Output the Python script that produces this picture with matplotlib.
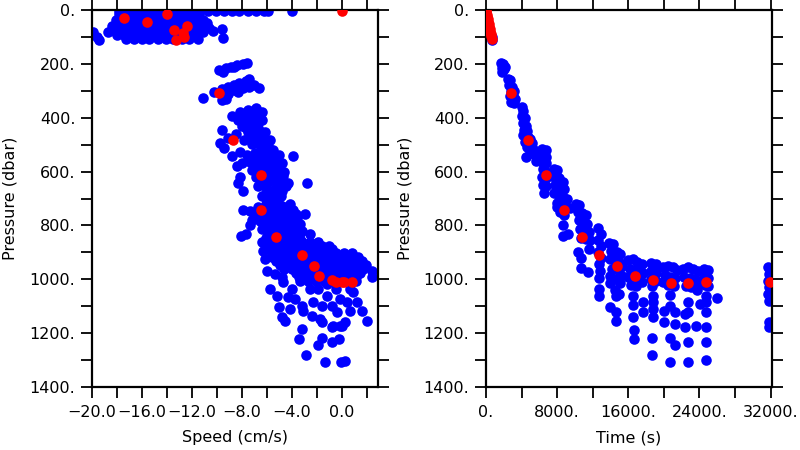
import numpy as np
import matplotlib
matplotlib.use("Agg")
import matplotlib.pyplot as plt
from matplotlib.ticker import MultipleLocator, FuncFormatter

BLUE = (0.0, 0.0, 1.0)
RED = (1.0, 0.0, 0.0)

# ---------------- left panel: speed (cm/s) vs pressure (dbar) ----------------
# near-surface blob, one list of speeds per pressure row
surf_pres = [2, 15, 26, 37, 48, 59, 70, 81, 94, 107]
surf_speed = [
    [-17.8, -17.1, -16.5, -15.8, -15.2, -14.6, -13.9, -13.3, -12.6, -12.0, -11.4,
     -10.7, -10.1, -9.4, -8.8, -8.2, -7.5, -6.9, -6.2, -5.9],
    [-17.8, -17.1, -16.5, -15.8, -15.2, -14.6, -13.9, -13.3, -12.6, -12.0, -11.4],
    [-17.5, -16.8, -16.2, -15.5, -14.9, -14.3, -13.6, -13.0, -12.3, -11.7],
    [-18.1, -17.5, -16.8, -16.2, -15.5, -14.9, -14.3, -13.6, -13.0, -12.3, -11.7, -11.1],
    [-17.8, -17.1, -16.5, -15.8, -15.2, -14.6, -13.9, -13.3, -12.6, -12.0, -11.4],
    [-18.4, -17.8, -17.1, -16.5, -15.8, -15.2, -14.6, -13.9, -13.3, -12.6, -12.0, -11.4, -11.0],
    [-18.1, -17.5, -16.8, -16.2, -15.5, -14.9, -14.3, -13.6, -13.0, -12.3, -11.7],
    [-18.7, -18.1, -17.5, -16.8, -16.2, -15.5, -14.9, -14.3, -13.6, -13.0, -12.3, -11.7, -11.1],
    [-18.0, -17.4, -16.8, -16.1, -15.5, -14.8, -14.2, -13.6, -12.9, -12.3, -11.6],
    [-17.3, -16.6, -16.0, -15.4, -14.7, -14.1, -13.5, -12.8, -12.2, -11.5],
]
surf_x_speed = [-19.9, -19.6, -19.4, -18.0, -10.8, -10.6, -10.3, -9.6, -9.5, -4.0]
surf_x_pres = [81, 100, 111, 48, 48, 67, 78, 70, 104, 4]

# deeper blue points, cluster by cluster
deep_speed = [
    # 200 dbar band
    -9.8, -9.3, -8.9, -8.4, -7.9, -7.6, -9.5, -8.6,
    # 300 dbar band
    -10.2, -9.6, -9.1, -8.6, -8.2, -7.7, -7.4, -8.6, -7.9, -7.4, -7.0, -6.6, -9.1, -8.3,
    -9.6, -9.3, -11.1,
    # 400-520 dbar
    -8.8, -8.16, -7.52, -6.88, -6.4, -8.32, -7.68, -7.04, -6.4, -8.0, -7.36, -6.72, -6.16,
    -7.52, -6.88, -6.24, -5.76, -7.84, -7.2, -6.56, -5.92, -5.52, -9.6, -9.76, -9.44, -9.12, -8.48,
    -7.2, -6.6, -7.9, -7.3, -6.7, -7.7, -7.1, -6.5, -7.4, -6.6, -6.1,
    # 520-700 dbar
    -7.6, -6.96, -6.32, -5.68, -5.04, -7.36, -6.72, -6.08, -5.44, -4.8, -7.2, -6.56, -5.92,
    -5.28, -4.64, -6.88, -6.24, -5.6, -4.96, -4.32, -6.72, -6.08, -5.44, -4.8, -6.4, -5.76,
    -5.12, -8.0, -8.16, -8.16, -8.32, -7.92, -3.92, -2.8, -8.8, -8.4,
    -7.0, -6.4, -5.8, -5.2, -6.9, -6.3, -5.6, -5.0, -6.6, -6.0, -5.3, -4.7, -6.5, -5.9,
    -5.2, -4.5, -6.1, -5.4, -4.9, -6.0, -5.5,
    # 720-850 dbar
    -6.72, -6.08, -5.44, -4.8, -4.16, -6.88, -6.24, -5.6, -4.96, -4.32, -3.68, -6.56, -5.92,
    -5.28, -4.64, -4.0, -3.36, -6.4, -5.76, -5.12, -4.48, -3.84, -3.2, -6.08, -4.64, -4.0,
    -3.36, -7.92, -7.36, -8.08, -7.68, -7.2, -7.36, -2.56, -2.96,
    -6.4, -5.8, -5.1, -4.5, -3.9, -6.2, -5.6, -5.0, -4.3, -3.6, -6.1, -5.4, -4.8, -4.2,
    -3.5, -5.9, -5.3, -4.6, -4.0, -3.4,
    # 860-1040 dbar dense band
    -6.4, -5.76, -5.12, -4.48, -3.84, -3.2, -2.56, -1.92,
    -6.1, -5.4, -4.8, -4.2, -3.5, -2.9, -2.2, -1.6, -1.0,
    -5.92, -5.28, -4.64, -4.0, -3.36, -2.72, -2.08, -1.44, -0.8,
    -5.6, -5.0, -4.3, -3.7, -3.0, -2.4, -1.8, -1.1, -0.5, 0.2, 0.8,
    -5.6, -4.96, -4.32, -3.68, -3.04, -2.4, -1.76, -1.12, -0.48, 0.16, 0.8, 1.28,
    -5.3, -4.6, -4.0, -3.4, -2.7, -2.1, -1.4, -0.8, -0.2, 0.5, 1.1, 1.6,
    -4.96, -4.32, -3.68, -3.04, -2.4, -1.76, -1.12, -0.48, 0.16, 0.8, 1.44, 1.92,
    -4.6, -4.0, -3.4, -2.7, -2.1, -1.4, -0.8, -0.2, 0.5, 1.1, 1.7,
    -3.68, -3.04, -2.4, -1.76, -1.12, -0.48, 0.16, 0.8, 1.44,
    -3.4, -2.7, -2.1, -1.4, -0.8, -0.2, 0.5, 1.1,
    -3.36, -2.72, -2.08, -1.44, -0.8, -0.16, 0.48, 1.12,
    -2.56, -1.92, -0.48, 0.64, 2.4, 2.4,
    # scattered deep points
    -6.32, -6.16, -6.0, -5.36, -4.8, -4.72, -5.76, -5.2, -4.0, -4.32, -3.76, -5.04, -4.16,
    -4.8, -4.56, -3.2, -3.12, -2.4, -1.76, -1.6, -2.32, -1.2, -1.6, -0.8, -0.4, -0.72, -0.16,
    0.24, 0.64, 0.4, 1.2, 1.6, 2.0, 0.88, -0.16, -1.2, -3.2, -3.44, -1.6, -1.92, -0.8, -0.24,
    -0.8, 0.0, -2.88, -1.36, -0.08, 0.24,
]
deep_pres = [
    222, 215, 211, 204, 200, 196, 230, 211,
    304, 293, 285, 278, 270, 263, 256, 296, 289, 285, 278, 289, 311, 304,
    333, 330, 326,
    393, 378, 370, 363, 378, 407, 400, 393, 407, 430, 422, 437, 452,
    452, 467, 474, 481, 481, 496, 500, 504, 519, 444, 493, 511, 474, 459,
    385, 392, 415, 410, 420, 440, 445, 452, 470, 485, 490,
    537, 530, 526, 526, 537, 563, 556, 556, 563, 570, 593, 585, 593,
    600, 600, 622, 622, 630, 637, 641, 652, 659, 667, 674, 689, 696,
    704, 567, 526, 622, 641, 674, 541, 641, 541, 578,
    545, 545, 545, 550, 575, 575, 578, 585, 607, 607, 612, 618, 640, 640,
    648, 655, 678, 680, 690, 710, 712,
    730, 722, 730, 726, 722, 759, 756, 759, 756, 759, 756, 785, 785,
    785, 785, 785, 793, 815, 815, 815, 815, 815, 822, 845, 845, 845,
    852, 744, 800, 841, 830, 778, 748, 833, 759,
    744, 744, 744, 742, 742, 770, 770, 770, 770, 772, 800, 800, 800, 800,
    805, 830, 830, 830, 830, 835,
    863, 863, 863, 863, 863, 863, 863, 863,
    876, 876, 876, 876, 876, 876, 876, 876, 876,
    889, 889, 889, 889, 889, 889, 889, 889, 889,
    904, 904, 904, 904, 904, 904, 904, 904, 904, 904, 904,
    919, 919, 919, 919, 919, 919, 919, 919, 919, 919, 919, 919,
    933, 933, 933, 933, 933, 933, 933, 933, 933, 933, 933, 933,
    948, 948, 948, 948, 948, 948, 948, 948, 948, 948, 948, 948,
    963, 963, 963, 963, 963, 963, 963, 963, 963, 963, 963,
    978, 978, 978, 978, 978, 978, 978, 978, 978,
    992, 992, 992, 992, 992, 992, 992, 992,
    1007, 1007, 1007, 1007, 1007, 1007, 1007, 1007,
    1037, 1037, 1037, 1037, 993, 970,
    896, 926, 970, 982, 993, 1011, 1037, 1063, 1037, 1067, 1074, 1104, 1111,
    1141, 1156, 1100, 1119, 1137, 1148, 1159, 1085, 1063, 1100, 1100, 1122, 1174, 1174,
    1159, 1119, 1085, 1085, 1119, 1156, 1048, 1074, 1019, 1185, 1222, 1219, 1245, 1233, 1222,
    1178, 1174, 1282, 1307, 1307, 1304,
]

red_speed = [-17.4, -15.6, -14.0, -13.4, -12.4, -12.7, -12.6, -13.3, 0.0,
             -9.8, -8.7, -6.5, -6.5, -5.3, -3.2, -2.2, -1.8, -0.8, -0.5, 0.0, 0.2, 0.8]
red_pres_l = [30, 44, 15, 74, 59, 85, 100, 111, 2,
              307, 481, 611, 741, 844, 911, 952, 989, 1004, 1011, 1011, 1011, 1011]

# ---------------- right panel: time (s) vs pressure (dbar) ----------------
time_blue = [
    620, 700,
    1700, 1900, 1750, 2000, 1850, 2100,
    2500, 2700, 2600, 2900, 2800, 3100, 2700, 3000, 3300, 2800, 3100,
    4000, 4200, 4100, 4400, 4200, 4500, 4300, 4600, 4200, 4700, 4400, 5000, 5200, 4600, 5300,
    5000, 4500, 5500, 5600,
    6300, 6700, 6400, 6800, 6300, 6700, 6400, 6800, 6300, 6700, 6400, 6800, 6500,
    7600, 8000, 7700, 8200, 8600, 7800, 8300, 8800, 7700, 8200, 8700, 9100, 8000, 8500, 9000,
    9400, 7980, 8300, 8800, 8650, 9220, 8650,
    10100, 10500, 10300, 10800, 11200, 10400, 10900, 11400, 10600, 11100, 11600, 10700, 11200,
    11700, 10340, 10680, 10680, 11580, 11460,
    12600, 12900, 12600, 12900, 12600, 12900, 12700, 12800, 12700, 12700, 12700,
    13800, 14300, 14100, 14700, 15100, 13900, 14400, 15000, 15300, 14200, 14800, 15200, 14600,
    15100, 14500, 14900, 14600, 13940, 14610, 14610, 13940, 13940,
    16000, 16500, 17000, 17500, 16200, 16700, 17200, 17700, 16000, 16500, 17000, 17500, 16300,
    16900, 16520, 16520, 16520, 16640, 16640, 17650, 17650,
    18500, 19100, 18500, 19100, 18600, 19100, 18700, 18770, 18770, 18770, 18770, 18660, 18660,
    19900, 20500, 21000, 21500, 20100, 20700, 21300, 19900, 20500, 21100, 20680, 20680, 21240,
    20000, 20000, 21240, 20680, 21240, 20680,
    22100, 22700, 23300, 23800, 22300, 22900, 23500, 24000, 22500, 23100, 23700, 22700, 22700,
    22370, 23600, 24050, 22370, 22700, 22700,
    24500, 25000, 24500, 25000, 24600, 25000, 24730, 24730, 24730, 24730, 24730, 24730, 25960,
    31700, 31800, 31700, 31800, 31700, 31800, 31800, 31800,
]
pres_blue = [
    100, 112,
    195, 200, 215, 220, 230, 210,
    255, 260, 280, 285, 300, 300, 320, 320, 330, 340, 345,
    360, 375, 395, 400, 420, 430, 445, 450, 465, 470, 490, 480, 495, 510, 515,
    530, 545, 540, 560,
    515, 520, 540, 545, 565, 570, 590, 600, 620, 625, 650, 655, 680,
    590, 595, 620, 625, 640, 650, 660, 665, 680, 690, 695, 700, 715, 720, 730,
    735, 733, 750, 760, 800, 830, 841,
    720, 725, 750, 755, 760, 780, 790, 795, 815, 820, 825, 845, 850,
    855, 900, 922, 959, 889, 974,
    810, 830, 855, 875, 900, 920, 945, 970, 995, 1037, 1063,
    865, 870, 895, 900, 905, 925, 930, 935, 950, 960, 965, 985, 1000,
    1015, 1040, 1055, 1063, 1104, 1122, 1156, 989, 1015,
    930, 925, 935, 945, 960, 965, 970, 975, 990, 995, 1000, 1010, 1020,
    1025, 1063, 1096, 1141, 1189, 1222, 1085, 1122,
    940, 945, 970, 975, 1000, 1005, 1025, 1063, 1085, 1111, 1141, 1219, 1282,
    955, 950, 955, 965, 985, 990, 995, 1010, 1020, 1025, 1059, 1100, 1122,
    1119, 1159, 1167, 1219, 1245, 1307,
    960, 955, 960, 970, 990, 995, 1000, 1010, 1025, 1030, 1040, 1085, 1122,
    1130, 1174, 1093, 1178, 1233, 1307,
    960, 965, 990, 995, 1020, 1025, 1063, 1085, 1122, 1178, 1233, 1300, 1070,
    955, 980, 1005, 1030, 1055, 1080, 1159, 1178,
]

red_time = [0, 40, 90, 140, 190, 240, 300, 360, 420, 480, 540, 600, 660,
            2810, 4720, 6740, 8770, 10790, 12700, 14720, 16750, 18770, 20790, 22700, 24730, 31920]
red_pres_r = [0, 8, 17, 26, 35, 44, 53, 62, 71, 80, 89, 98, 108,
              307, 481, 611, 741, 844, 911, 952, 989, 1004, 1015, 1015, 1011, 1011]

# build flat arrays for the left-panel blob
left_x = np.concatenate([np.array(v) for v in surf_speed] + [surf_x_speed, deep_speed])
left_y = np.concatenate([np.full(len(v), p) for v, p in zip(surf_speed, surf_pres)]
                        + [surf_x_pres, deep_pres])

fig = plt.figure(figsize=(8, 4.5), dpi=100)
ax1 = fig.add_axes([92 / 800, 1 - 387 / 450, 286 / 800, 377 / 450])
ax2 = fig.add_axes([486 / 800, 1 - 387 / 450, 286 / 800, 377 / 450])

ms = 58
ax1.scatter(left_x, left_y, s=ms, color=BLUE, linewidths=0, zorder=2)
ax1.scatter(red_speed, red_pres_l, s=ms, color=RED, linewidths=0, zorder=3)
ax2.scatter(time_blue, pres_blue, s=ms, color=BLUE, linewidths=0, zorder=2)
ax2.scatter(red_time, red_pres_r, s=ms, color=RED, linewidths=0, zorder=3)


def dot_fmt(decimals):
    def f(v, pos):
        if decimals == 0:
            return f"{v:.0f}.".replace("-", "\u2212")
        return f"{v:.{decimals}f}".replace("-", "\u2212")
    return FuncFormatter(f)


fs = 11.5
for ax in (ax1, ax2):
    ax.set_ylim(1400, 0)
    ax.yaxis.set_major_locator(MultipleLocator(200))
    ax.yaxis.set_minor_locator(MultipleLocator(100))
    ax.yaxis.set_major_formatter(dot_fmt(0))
    ax.tick_params(which="both", direction="out", length=8, width=1.3,
                   top=True, right=True, labelsize=fs, colors="black")
    ax.tick_params(axis="x", pad=5)
    ax.tick_params(axis="y", pad=4)
    for s in ax.spines.values():
        s.set_linewidth(1.6)
    ax.set_ylabel("Pressure (dbar)", fontsize=fs)

ax1.set_xlim(-20, 2.9)
ax1.xaxis.set_major_locator(MultipleLocator(4))
ax1.xaxis.set_minor_locator(MultipleLocator(2))
ax1.xaxis.set_major_formatter(dot_fmt(1))
ax1.set_xlabel("Speed (cm/s)", fontsize=fs)
ax1.yaxis.set_label_coords(-0.287, 0.5)

ax2.set_xlim(0, 32150)
ax2.xaxis.set_major_locator(MultipleLocator(8000))
ax2.xaxis.set_minor_locator(MultipleLocator(4000))
ax2.xaxis.set_major_formatter(dot_fmt(0))
ax2.set_xlabel("Time (s)", fontsize=fs)
ax2.yaxis.set_label_coords(-0.283, 0.5)

for ax in (ax1, ax2):
    ax.yaxis.label.set_va("center")
    ax.xaxis.set_label_coords(0.5, -0.135)
    ax.xaxis.label.set_va("center")

fig.savefig("out.png", dpi=100)
